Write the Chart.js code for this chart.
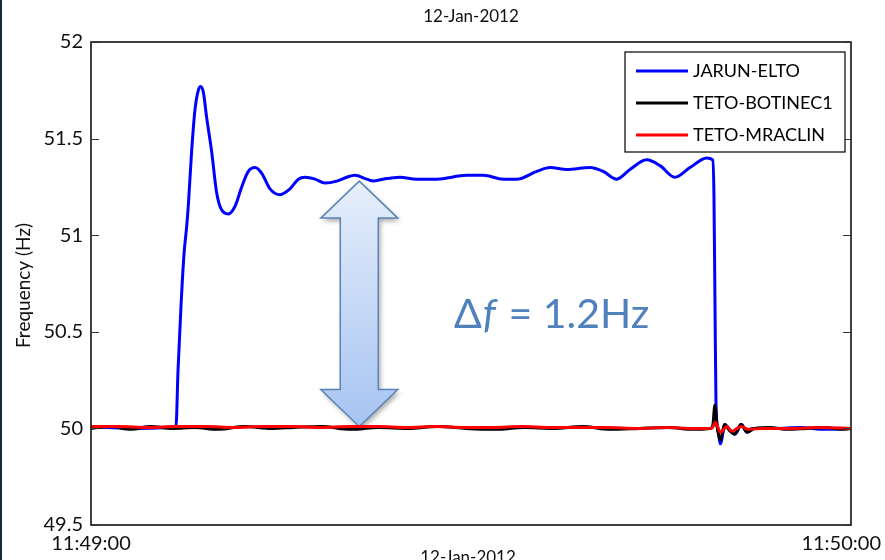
<!DOCTYPE html>
<html>
<head>
<meta charset="utf-8">
<title>Frequency 12-Jan-2012</title>
<script src="https://cdn.jsdelivr.net/npm/chart.js@4"></script>
<style>
    html, body { margin: 0; padding: 0; background: #fff; }
    #wrap { position: relative; width: 885px; height: 560px; overflow: hidden; }
    #edge { position: absolute; left: 0; top: 0; width: 2px; height: 560px; background: #18283f; }
</style>
</head>
<body>
<div id="wrap">
    <canvas id="chart" width="885" height="560"></canvas>
    <div id="edge"></div>
</div>
<script>
// Time axis in seconds after 11:49:00
const xTickValues = [0, 60];
const xTickLabels = ['11:49:00', '11:50:00'];
const yTicks = [49.5, 50, 50.5, 51, 51.5, 52];
const chartTitle = '12-Jan-2012';
const yTitle = 'Frequency (Hz)';
const seriesNames = ['JARUN-ELTO', 'TETO-BOTINEC1', 'TETO-MRACLIN'];
const seriesColors = ['#0000ff', '#000000', '#ff0000'];

// JARUN-ELTO
const blueT = [0, 3.1, 6.71, 6.87, 7.11, 7.34, 7.56, 7.68, 7.95, 8.21, 8.47, 8.66, 8.87, 9.13, 9.53, 9.92,
    10.32, 10.84, 11.37, 11.90, 12.42, 12.95, 13.48, 14.13, 14.92, 15.71, 16.37, 16.89, 17.68, 18.47,
    19.40, 20.19, 20.84, 21.77, 22.29, 23.05, 24.39, 25.71, 27.29, 29.66, 30.97, 32.55, 33.61, 35.19,
    36.24, 37.56, 39.39, 40.44, 41.50, 42.55, 43.87, 44.92, 46.10, 47.29, 48.61, 49.08, 49.18, 49.26,
    49.34, 49.50, 49.71, 49.90, 50.05, 50.45, 50.84, 51.37, 51.77, 52.18, 54.0, 56.0, 58.0, 60];
const blueV = [50.01, 50.00, 50.01, 50.30, 50.64, 50.90, 51.05, 51.15, 51.44, 51.65, 51.75, 51.77, 51.74, 51.61, 51.43, 51.22,
    51.13, 51.11, 51.15, 51.25, 51.33, 51.35, 51.32, 51.24, 51.21, 51.24, 51.29, 51.30, 51.29, 51.27,
    51.28, 51.30, 51.31, 51.29, 51.28, 51.29, 51.30, 51.29, 51.29, 51.31, 51.31, 51.29, 51.29, 51.33,
    51.35, 51.34, 51.35, 51.33, 51.29, 51.34, 51.39, 51.36, 51.30, 51.35, 51.40, 51.39, 51.21, 50.66,
    50.13, 49.99, 49.92, 49.98, 50.02, 49.99, 49.97, 50.02, 49.98, 50.00, 50.00, 50.005, 49.995, 50.00];

// TETO-BOTINEC1
const blackT = [0, 1.6, 3.1, 4.7, 6.4, 8.2, 10.0, 12.1, 14.3, 16.0, 18.2, 20.5, 22.7, 25.0, 27.4, 29.6,
    31.9, 34.2, 36.5, 38.8, 41.0, 43.3, 45.6, 47.5, 48.9, 49.1, 49.25, 49.45, 49.7, 50.0, 50.4, 50.8,
    51.3, 51.8, 52.4, 53.6, 55.0, 56.5, 58.0, 59.3, 60];
const blackV = [50.00, 50.01, 49.995, 50.01, 50.00, 50.005, 49.995, 50.01, 50.00, 50.005, 50.01, 49.995, 50.005, 50.00, 50.01, 50.00,
    49.995, 50.005, 50.00, 50.01, 49.995, 50.00, 50.005, 49.995, 50.00, 50.02, 50.12, 50.00, 49.94, 50.02, 49.99, 49.97,
    50.02, 49.98, 50.00, 50.005, 49.995, 50.00, 50.005, 49.995, 50.00];

// TETO-MRACLIN
const redT = [0, 2.2, 4.5, 6.8, 9.1, 11.3, 13.6, 15.9, 18.1, 20.4, 22.6, 24.9, 27.2, 29.5, 31.7, 34.0,
    36.3, 38.6, 40.8, 43.1, 45.4, 47.6, 49.0, 49.3, 49.7, 50.2, 50.6, 51.3, 51.9, 53.0, 55.2, 57.5, 60];
const redV = [50.01, 50.01, 50.005, 50.01, 50.01, 50.005, 50.01, 50.01, 50.005, 50.01, 50.01, 50.005, 50.01, 50.005, 50.005, 50.01,
    50.005, 50.005, 50.005, 50.00, 50.005, 50.00, 50.00, 50.03, 49.98, 50.01, 49.985, 50.01, 49.995, 50.00, 50.00, 50.005, 50.00];

// Annotation: double arrow and label
const arrowAt = { t: 21.18, top: 51.28, bottom: 50.01 };
const deltaLabel = { t: 28.66, v: 50.52, before: 'Δ', italic: 'f', after: ' = 1.2Hz' };

const FONT = 'Lato, "Open Sans", sans-serif';

function zip(ts, vs) {
    return ts.map((t, i) => ({ x: t, y: vs[i] }));
}

// Arrow drawn under the lines
const arrowPlugin = {
    id: 'arrow',
    beforeDatasetsDraw(chart) {
        const { ctx, scales } = chart;
        const cx = scales.x.getPixelForValue(arrowAt.t);
        const y0 = scales.y.getPixelForValue(arrowAt.top);
        const y1 = scales.y.getPixelForValue(arrowAt.bottom);
        const headW = 38.5, headL = 37, shaftW = 19;

        ctx.save();
        ctx.beginPath();
        ctx.moveTo(cx, y0);
        ctx.lineTo(cx + headW, y0 + headL);
        ctx.lineTo(cx + shaftW, y0 + headL);
        ctx.lineTo(cx + shaftW, y1 - headL);
        ctx.lineTo(cx + headW, y1 - headL);
        ctx.lineTo(cx, y1);
        ctx.lineTo(cx - headW, y1 - headL);
        ctx.lineTo(cx - shaftW, y1 - headL);
        ctx.lineTo(cx - shaftW, y0 + headL);
        ctx.lineTo(cx - headW, y0 + headL);
        ctx.closePath();
        const grad = ctx.createLinearGradient(0, y0, 0, y1);
        grad.addColorStop(0, '#e6eefa');
        grad.addColorStop(1, '#a6c4f2');
        ctx.shadowColor = 'rgba(0,0,0,0.35)';
        ctx.shadowBlur = 5;
        ctx.shadowOffsetX = 2;
        ctx.shadowOffsetY = 3;
        ctx.fillStyle = grad;
        ctx.fill();
        ctx.shadowColor = 'transparent';
        ctx.strokeStyle = '#5b84b6';
        ctx.lineWidth = 1.5;
        ctx.stroke();
        ctx.restore();
    }
};

// Frame, ticks, legend and texts in MATLAB style
const decorPlugin = {
    id: 'decor',
    afterDatasetsDraw(chart) {
        const { ctx, chartArea: a, scales } = chart;
        ctx.save();

        // Frame
        ctx.strokeStyle = '#000';
        ctx.lineWidth = 1.5;
        ctx.strokeRect(a.left, a.top, a.right - a.left, a.bottom - a.top);

        // Inward y ticks on both sides
        ctx.lineWidth = 1;
        ctx.strokeStyle = '#333';
        yTicks.forEach(v => {
            const py = Math.round(scales.y.getPixelForValue(v)) + 0.5;
            ctx.beginPath();
            ctx.moveTo(a.left, py);
            ctx.lineTo(a.left + 8, py);
            ctx.moveTo(a.right, py);
            ctx.lineTo(a.right - 8, py);
            ctx.stroke();
        });

        // X tick labels
        ctx.fillStyle = '#111';
        ctx.font = '20px ' + FONT;
        ctx.textBaseline = 'middle';
        ctx.textAlign = 'center';
        xTickValues.forEach((v, i) => {
            const w = ctx.measureText(xTickLabels[i]).width;
            let px = scales.x.getPixelForValue(v);
            px = Math.min(px, chart.width - 4 - w / 2);
            ctx.fillText(xTickLabels[i], px, a.bottom + 19);
        });

        // Titles (top and the clipped one at the bottom)
        const midX = (a.left + a.right) / 2;
        ctx.font = '17px ' + FONT;
        ctx.textBaseline = 'middle';
        ctx.fillText(chartTitle, midX, 17);
        ctx.textBaseline = 'alphabetic';
        ctx.fillText(chartTitle, midX - 3, chart.height + 3);

        // Y title
        ctx.save();
        ctx.translate(24, (a.top + a.bottom) / 2 + 2);
        ctx.rotate(-Math.PI / 2);
        ctx.font = '19px ' + FONT;
        ctx.textBaseline = 'middle';
        ctx.fillText(yTitle, 0, 0);
        ctx.restore();

        // Legend box
        const lx = a.right - 226, ly = a.top + 10, lw = 220, lh = 100;
        ctx.fillStyle = '#fff';
        ctx.fillRect(lx, ly, lw, lh);
        ctx.strokeStyle = '#000';
        ctx.lineWidth = 1.2;
        ctx.strokeRect(lx, ly, lw, lh);
        ctx.font = '18px ' + FONT;
        ctx.textAlign = 'left';
        ctx.textBaseline = 'middle';
        seriesNames.forEach((name, i) => {
            const ry = ly + 19 + i * 32;
            ctx.strokeStyle = seriesColors[i];
            ctx.lineWidth = 3;
            ctx.beginPath();
            ctx.moveTo(lx + 11, ry);
            ctx.lineTo(lx + 63, ry);
            ctx.stroke();
            ctx.fillStyle = '#000';
            ctx.fillText(name, lx + 68, ry);
        });

        // Delta f label
        let tx = scales.x.getPixelForValue(deltaLabel.t);
        const ty = scales.y.getPixelForValue(deltaLabel.v);
        ctx.fillStyle = '#4f81bd';
        ctx.textBaseline = 'alphabetic';
        ctx.font = '41px ' + FONT;
        ctx.fillText(deltaLabel.before, tx, ty);
        tx += ctx.measureText(deltaLabel.before).width + 1;
        ctx.font = 'italic 41px ' + FONT;
        ctx.fillText(deltaLabel.italic, tx, ty);
        tx += ctx.measureText(deltaLabel.italic).width + 2;
        ctx.font = '41px ' + FONT;
        ctx.fillText(deltaLabel.after, tx, ty);

        ctx.restore();
    }
};

// Build chart
function initChart() {
    const ctx = document.getElementById('chart').getContext('2d');
    const sets = [zip(blueT, blueV), zip(blackT, blackV), zip(redT, redV)];

    new Chart(ctx, {
        type: 'line',
        data: {
            datasets: sets.map((data, i) => ({
                label: seriesNames[i],
                data: data,
                borderColor: seriesColors[i],
                borderWidth: 3,
                pointRadius: 0,
                fill: false,
                cubicInterpolationMode: 'monotone',
                order: 3 - i
            }))
        },
        options: {
            responsive: false,
            animation: false,
            layout: { padding: { top: 42, right: 34, bottom: 35, left: 0 } },
            plugins: {
                legend: { display: false },
                title: { display: false },
                tooltip: { enabled: false }
            },
            scales: {
                x: {
                    type: 'linear',
                    min: 0,
                    max: 60,
                    grid: { display: false, drawTicks: false },
                    border: { display: false },
                    ticks: { display: false },
                    afterFit(scale) { scale.height = 0; }
                },
                y: {
                    min: 49.5,
                    max: 52,
                    grid: { display: false, drawTicks: false },
                    border: { display: false },
                    ticks: {
                        padding: 8,
                        color: '#111',
                        font: { family: FONT, size: 20 },
                        callback: value => String(value)
                    },
                    afterBuildTicks(scale) {
                        scale.ticks = yTicks.map(v => ({ value: v }));
                    },
                    afterFit(scale) { scale.width = 91; }
                }
            }
        },
        plugins: [arrowPlugin, decorPlugin]
    });
}

document.addEventListener('DOMContentLoaded', initChart);
</script>
</body>
</html>
